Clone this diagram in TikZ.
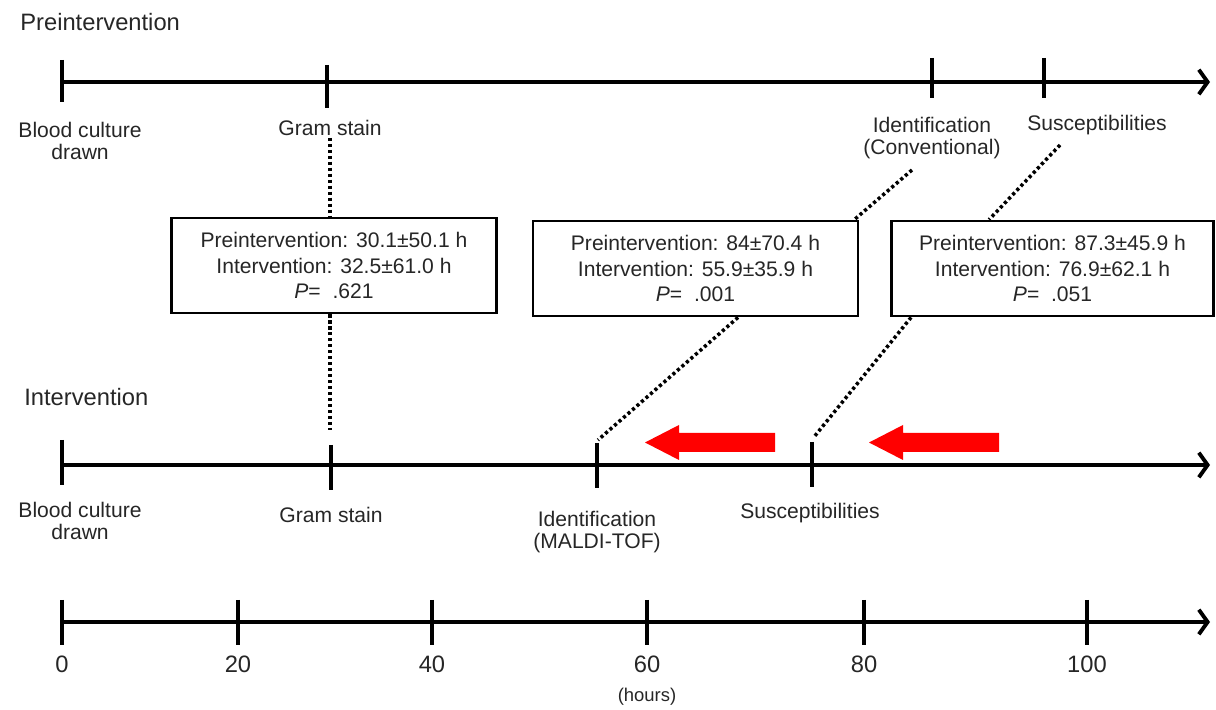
\documentclass[tikz,border=0pt]{standalone}
\usepackage{fontspec}
\setmainfont{Liberation Sans}
\usetikzlibrary{arrows.meta,positioning,calc}
\colorlet{txtgray}{black!85}
\colorlet{shiftred}{red}

\begin{document}
\begin{tikzpicture}[
  tline/.style={line width=2.2pt, -{Straight Barb[length=5pt,width=14pt]}},
  tickmark/.style={line width=2pt},
  lbl/.style={font=\fontsize{12}{13}\selectfont, text=txtgray, align=center, inner sep=1pt},
  phase/.style={font=\fontsize{13.5}{16}\selectfont, text=txtgray, anchor=west, inner sep=0pt},
  statbox/.style={draw, line width=1.6pt, minimum width=6.5cm, minimum height=1.9cm,
                  align=center, font=\fontsize{12}{14.4}\selectfont, text=txtgray},
  dots/.style={line width=2pt, dash pattern=on 1.8pt off 1.6pt}
]
\useasboundingbox (0,0) rectangle (24.32,14.2);

% preintervention
\node[phase] (prehead) at (0.4,13.76) {Preintervention};
\draw[tline] (1.24,12.56) -- (24.2,12.56);
\draw[tickmark] (1.24,13.0) -- (1.24,12.16);
\draw[tickmark] (6.54,12.9) -- (6.54,12.04);
\draw[tickmark] (18.64,13.04) -- (18.64,12.24);
\draw[tickmark] (20.88,13.04) -- (20.88,12.24);

\node[lbl] (prebc) at (1.6,11.38) {Blood culture\\drawn};
\node[lbl] (pregs) at (6.6,11.64) {Gram stain};
\node[lbl] (preid) at (18.64,11.44) {Identification\\(Conventional)};
\node[lbl] (presu) at (21.94,11.7) {Susceptibilities};

% comparison boxes
\node[statbox] (gsbox) at (6.68,8.89)
  {Preintervention: 30.1±50.1 h\\Intervention: 32.5±61.0 h\\\textit{P}=\ \ .621};
\node[statbox] (idbox) at (13.91,8.83)
  {Preintervention: 84±70.4 h\\Intervention: 55.9±35.9 h\\\textit{P}=\ \ .001};
\node[statbox, minimum width=6.44cm] (subox) at (21.05,8.83)
  {Preintervention: 87.3±45.9 h\\Intervention: 76.9±62.1 h\\\textit{P}=\ \ .051};

% intervention
\node[phase] (inthead) at (0.48,6.26) {Intervention};
\draw[tline] (1.24,4.9) -- (24.2,4.9);
\draw[tickmark] (1.24,5.4) -- (1.24,4.5);
\draw[tickmark] (6.62,5.3) -- (6.62,4.4);
\draw[tickmark] (11.94,5.34) -- (11.94,4.44);
\draw[tickmark] (16.24,5.36) -- (16.24,4.46);

\node[lbl] (intbc) at (1.6,3.78) {Blood culture\\drawn};
\node[lbl] (intgs) at (6.62,3.9) {Gram stain};
\node[lbl] (intid) at (11.94,3.56) {Identification\\(MALDI-TOF)};
\node[lbl] (intsu) at (16.2,3.94) {Susceptibilities};

% dotted links
\coordinate (gsend) at (6.6,5.6);
\coordinate (idtop) at (18.24,10.8);
\coordinate (idend) at (11.96,5.4);
\coordinate (sutop) at (21.2,11.3);
\coordinate (suend) at (16.28,5.46);
\draw[dots] (pregs.south) -- (pregs.south |- gsbox.north);
\draw[dots] (pregs.south |- gsbox.south) -- (gsend);
\draw[dots] (idtop) -- ($(idbox.north east)+(-0.1,0)$);
\draw[dots] ($(idbox.south)+(0.85,0)$) -- (idend);
\draw[dots] (sutop) -- ($(subox.north west)+(1.98,0)$);
\draw[dots] ($(subox.south west)+(0.42,0)$) -- (suend);

% shift arrows
\foreach \tx in {12.9,17.38}
  \fill[shiftred] (\tx,5.35) -- ++(0.68,0.35) -- ++(0,-0.16) -- ++(1.92,0)
    -- ++(0,-0.38) -- ++(-1.92,0) -- ++(0,-0.16) -- cycle;

% time axis
\draw[tline] (1.24,1.76) -- (24.2,1.76);
\foreach \x/\v in {1.24/0,4.76/20,8.64/40,12.94/60,17.28/80,21.74/100} {
  \draw[tickmark] (\x,2.2) -- (\x,1.3);
  \node[lbl, font=\fontsize{13.5}{15}\selectfont] (tick\v) at (\x,0.92) {\v};
}
\node[lbl, font=\fontsize{10.5}{12}\selectfont] (hours) at (12.94,0.26) {(hours)};
\end{tikzpicture}
\end{document}
